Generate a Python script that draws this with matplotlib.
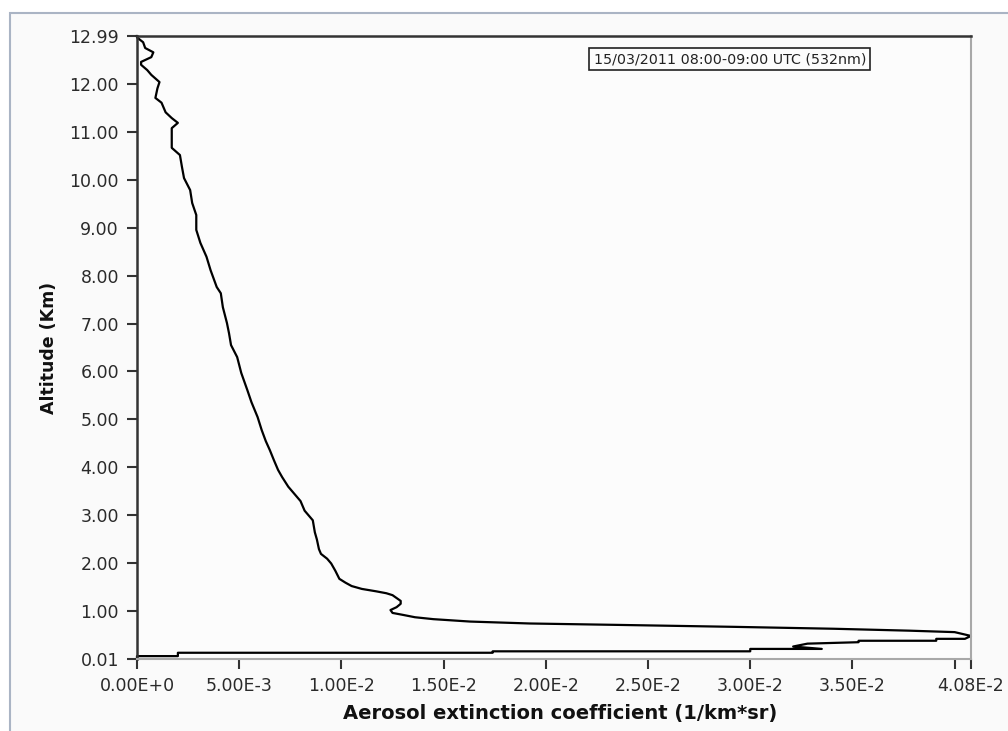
import matplotlib
matplotlib.use("Agg")
import matplotlib.pyplot as plt
from matplotlib.patches import Rectangle

# extinction profile (value, altitude km)
extinction = [
    0.0000, 0.0000, 0.0020, 0.0020, 0.0174, 0.0174, 0.0300, 0.0300, 0.0335,
    0.0321, 0.0328, 0.0353, 0.0353, 0.0391, 0.0391, 0.0405, 0.0408,
    0.0400, 0.0378, 0.0341, 0.0292, 0.0236, 0.0192, 0.0163, 0.0145,
    0.0136, 0.0130, 0.0125, 0.0124, 0.0127, 0.0129, 0.0129, 0.0127,
    0.0125, 0.0122, 0.0117, 0.0110, 0.0105, 0.0102, 0.0099, 0.0097,
    0.0095, 0.0093, 0.0090, 0.0089, 0.0088, 0.0087, 0.0086, 0.0082,
    0.0080, 0.0077, 0.0074, 0.0071, 0.0069, 0.0067, 0.0065, 0.0063,
    0.0061, 0.0059, 0.0056, 0.0054, 0.0051, 0.0049, 0.0046, 0.0045,
    0.0044, 0.0042, 0.0041, 0.0039, 0.0036, 0.0034, 0.0031, 0.0029,
    0.0029, 0.0027, 0.0026, 0.0023, 0.0022, 0.0021, 0.0017, 0.0017,
    0.0017, 0.0020, 0.0017, 0.0014, 0.0012, 0.0009, 0.0010, 0.0011,
    0.0007, 0.0005, 0.0002, 0.0002, 0.0007, 0.0008, 0.0004, 0.0003,
    0.0000, 0.0000,
]
altitude = [
    0.03, 0.07, 0.07, 0.14, 0.14, 0.17, 0.17, 0.22, 0.22,
    0.27, 0.33, 0.36, 0.39, 0.39, 0.43, 0.43, 0.49,
    0.57, 0.60, 0.64, 0.68, 0.72, 0.75, 0.79, 0.84,
    0.88, 0.93, 0.97, 1.03, 1.09, 1.16, 1.22, 1.28,
    1.34, 1.38, 1.42, 1.47, 1.53, 1.60, 1.68, 1.85,
    2.00, 2.10, 2.20, 2.30, 2.50, 2.65, 2.90, 3.10,
    3.30, 3.45, 3.60, 3.80, 3.95, 4.15, 4.36, 4.55,
    4.78, 5.05, 5.36, 5.61, 5.97, 6.30, 6.55, 6.80,
    7.01, 7.34, 7.63, 7.76, 8.11, 8.39, 8.68, 8.95,
    9.26, 9.51, 9.78, 10.03, 10.26, 10.51, 10.66, 10.93,
    11.07, 11.18, 11.28, 11.40, 11.60, 11.70, 11.90, 12.03,
    12.18, 12.28, 12.39, 12.45, 12.55, 12.65, 12.74, 12.86,
    12.96, 12.99,
]

x_ticks = [0.0, 0.005, 0.01, 0.015, 0.02, 0.025, 0.03, 0.035, 0.04, 0.0408]
x_labels = ["0.00E+0", "5.00E-3", "1.00E-2", "1.50E-2", "2.00E-2",
            "2.50E-2", "3.00E-2", "3.50E-2", "", "4.08E-2"]
y_ticks = [0.01, 1, 2, 3, 4, 5, 6, 7, 8, 9, 10, 11, 12, 12.99]

fig = plt.figure(figsize=(10.08, 7.31), dpi=100)
fig.patch.set_facecolor("white")

# light panel with a thin bluish frame behind the plot
panel = Rectangle((10 / 1008, -0.1), 1.2, 1.1 - 13 / 731,
                  transform=fig.transFigure, facecolor="#fafafa",
                  edgecolor="#aab4c4", linewidth=1.5, zorder=-10)
fig.patches.append(panel)

ax = fig.add_axes([137 / 1008, 1 - 659 / 731, (971 - 137) / 1008, (659 - 36) / 731])
ax.set_facecolor("#fcfcfc")
ax.plot(extinction, altitude, color="black", linewidth=1.6, clip_on=False)

ax.set_xlim(0, 0.0408)
ax.set_ylim(0.01, 12.99)
ax.set_xticks(x_ticks)
ax.set_xticklabels(x_labels)
ax.set_yticks(y_ticks)
ax.set_yticklabels([f"{v:.2f}" for v in y_ticks])
ax.tick_params(axis="both", direction="out", length=7, width=1.5,
               color="#333333", labelsize=12.5, labelcolor="#2a2a2a", pad=6)

for side in ["left", "top"]:
    ax.spines[side].set_color("#333333")
    ax.spines[side].set_linewidth(1.8)
for side in ["right", "bottom"]:
    ax.spines[side].set_color("#a8a8a8")
    ax.spines[side].set_linewidth(1.5)

ax.set_xlabel("Aerosol extinction coefficient (1/km*sr)", fontsize=14,
              fontweight="bold", color="#111111", labelpad=7)
ax.xaxis.set_label_coords((560 - 137) / 834, -0.072)
ax.set_ylabel("Altitude (Km)", fontsize=12.5, fontweight="bold",
              color="#111111", labelpad=8)

ax.text(0.5475, 0.974, "15/03/2011 08:00-09:00 UTC (532nm)", transform=ax.transAxes,
        fontsize=10.3, color="#222222", ha="left", va="top",
        bbox=dict(boxstyle="square,pad=0.3", facecolor="#fcfcfc",
                  edgecolor="#222222", linewidth=1.2))

fig.savefig("out.png", dpi=100)
